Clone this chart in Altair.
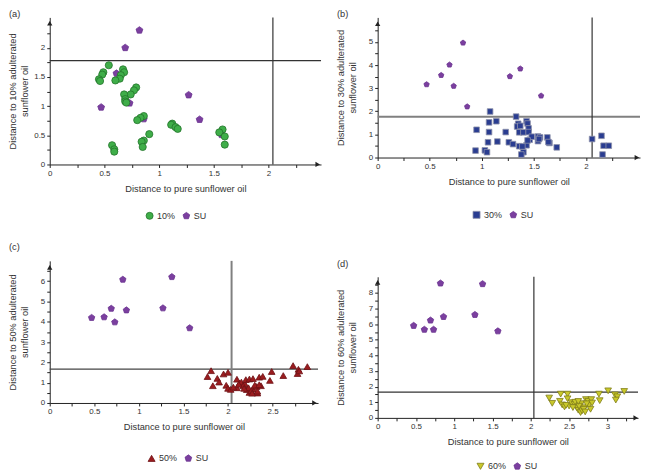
import altair as alt
import pandas as pd

FONT = "Liberation Sans"
TXT = "#333333"
AX = "#222222"
PENT = "M0,-1L0.951,-0.309L0.588,0.809L-0.588,0.809L-0.951,-0.309Z"

# Sunflower oil (SU) samples: same distance to pure oil in every panel
su_x = [0.47, 0.61, 0.69, 0.73, 0.82, 0.86, 1.27, 1.37, 1.57]
su_y_a = [0.98, 1.56, 2.00, 1.05, 2.30, 0.78, 1.19, 0.77, 0.51]
su_y_b = [3.16, 3.56, 4.01, 3.09, 4.96, 2.20, 3.51, 3.84, 2.67]
su_y_c = [4.20, 4.23, 4.65, 3.98, 6.08, 4.57, 4.67, 6.21, 3.69]
su_y_d = [5.90, 5.65, 6.24, 5.65, 8.61, 6.47, 6.60, 8.57, 5.55]

# 10% adulterated
x10 = [0.54, 0.49, 0.48, 0.45, 0.46, 0.67, 0.68, 0.65, 0.64, 0.60, 0.79, 0.77,
       0.74, 0.68, 0.69, 0.69, 0.70, 0.86, 0.83, 0.80, 0.91, 0.86, 0.84, 0.85,
       0.57, 0.59, 0.59, 1.12, 1.11, 1.15, 1.17, 1.58, 1.55, 1.60, 1.60]
y10 = [1.70, 1.58, 1.54, 1.46, 1.43, 1.63, 1.58, 1.53, 1.47, 1.44, 1.32, 1.27,
       1.20, 1.20, 1.12, 1.08, 1.06, 0.83, 0.80, 0.76, 0.52, 0.41, 0.39, 0.30,
       0.33, 0.26, 0.22, 0.70, 0.68, 0.64, 0.61, 0.60, 0.55, 0.48, 0.34]

# 30% adulterated
x30 = [1.08, 1.33, 1.14, 1.07, 1.43, 1.44, 1.35, 1.34, 1.37, 1.45, 0.95, 1.07,
       1.23, 1.36, 1.40, 1.45, 1.54, 1.56, 1.63, 1.46, 1.54, 1.65, 1.15, 1.06,
       1.26, 1.30, 1.36, 1.43, 1.72, 0.94, 1.03, 1.05, 1.40, 1.38, 2.06, 2.15,
       2.17, 2.22, 2.16, 1.48, 1.44, 1.64, 1.55, 1.39]
y30 = [1.99, 1.77, 1.57, 1.52, 1.57, 1.47, 1.46, 1.34, 1.37, 1.26, 1.20, 1.10,
       1.10, 1.09, 1.09, 1.10, 0.91, 0.87, 0.87, 0.77, 0.71, 0.63, 0.69, 0.66,
       0.66, 0.58, 0.49, 0.53, 0.44, 0.30, 0.31, 0.23, 0.23, 0.13, 0.80, 0.94,
       0.51, 0.51, 0.13, 0.90, 0.74, 0.67, 0.80, 0.48]

# 50% adulterated
x50 = [1.81, 1.77, 1.83, 1.88, 1.90, 1.95, 2.00, 1.98, 2.00, 2.03, 2.10, 2.13,
       2.10, 2.15, 2.19, 2.20, 2.24, 2.28, 2.21, 2.24, 2.28, 2.32, 2.35, 2.39,
       2.33, 2.37, 2.49, 2.47, 2.62, 2.73, 2.79, 2.78, 2.80, 2.89, 2.06, 2.17,
       2.23, 2.26, 2.30, 2.33, 2.35, 2.12, 2.18, 2.27]
y50 = [1.59, 1.30, 0.85, 1.21, 1.03, 1.43, 1.51, 0.87, 0.72, 0.67, 1.17, 0.98,
       0.75, 1.03, 0.95, 1.15, 1.18, 1.20, 0.66, 0.52, 0.68, 0.81, 1.27, 1.31,
       0.49, 0.85, 1.55, 1.11, 1.35, 1.84, 1.66, 1.45, 1.58, 1.79, 0.78, 0.85,
       0.75, 0.60, 0.88, 0.58, 0.90, 0.92, 0.72, 0.48]

# 60% adulterated
x60 = [2.24, 2.28, 2.39, 2.48, 2.38, 2.41, 2.44, 2.48, 2.50, 2.53, 2.57, 2.60,
       2.62, 2.65, 2.67, 2.70, 2.72, 2.75, 2.76, 2.78, 2.79, 2.66, 2.55, 2.89,
       2.90, 3.01, 3.10, 3.13, 3.11, 3.22, 2.46, 2.58, 2.63, 2.69, 2.73, 2.62,
       2.71, 2.80]
y60 = [1.27, 0.93, 1.52, 1.52, 1.06, 0.83, 0.70, 1.22, 0.76, 0.97, 0.87, 0.65,
       0.49, 0.34, 0.45, 0.65, 1.17, 1.06, 0.80, 0.55, 1.17, 0.91, 0.66, 1.52,
       1.10, 1.73, 1.47, 1.35, 1.14, 1.69, 0.80, 1.00, 0.75, 0.55, 0.90, 1.05,
       0.38, 0.95]

# threshold lines (x = distance to pure oil limit, y = distance to adulterated limit)
thr_x = [2.04, 2.06, 2.04, 2.04]
thr_y = [1.78, 1.76, 1.67, 1.65]

tags = ["(a)", "(b)", "(c)", "(d)"]
labels = ["10%", "30%", "50%", "60%"]
ytitles = [["Distance to 10% adulterated", "sunflower oil"],
           ["Distance to 30% adulterated", "sunflower oil"],
           ["Distance to 50% adulterated", "sunflower oil"],
           ["Distance to 60% adulterated", "sunflower oil"]]


def ticks(step, top):
    n = int(round(top / step))
    return [i * step for i in range(n + 1)]


def panel(i, sx, sy, suy, shape, fill, stroke, size, xmax, ymax, w, h,
          xtick_top, ytick_step, ylab_step, ytick_top, xarr, yarr,
          hcol, hw, vcol, vw, toff, lx, ly):
    lab = labels[i]
    df = pd.DataFrame({
        "x": su_x + sx,
        "y": suy + sy,
        "g": ["SU"] * len(su_x) + [lab] * len(sx),
    })
    xs = alt.Scale(domain=[0, xmax], nice=False, zero=True)
    ys = alt.Scale(domain=[0, ymax], nice=False, zero=True)
    xaxis = alt.Axis(
        values=ticks(0.25, xtick_top),
        labelExpr="datum.value % 0.5 == 0 ? toString(datum.value) : ''",
        title="Distance to pure sunflower oil", grid=False, tickSize=3,
        domainColor=AX, tickColor=AX, labelColor=TXT, titleColor=TXT,
        labelFont=FONT, titleFont=FONT, labelFontSize=8, titleFontSize=9.3,
        titleFontWeight="normal", labelPadding=2, titlePadding=7,
        labelOverlap=False, labelFlush=False,
    )
    yaxis = alt.Axis(
        values=ticks(ytick_step, ytick_top),
        labelExpr=f"datum.value % {ylab_step} == 0 ? toString(datum.value) : ''",
        title=ytitles[i], grid=False, tickSize=3,
        domainColor=AX, tickColor=AX, labelColor=TXT, titleColor=TXT,
        labelFont=FONT, titleFont=FONT, labelFontSize=8, titleFontSize=9.3,
        titleFontWeight="normal", labelPadding=2, titlePadding=4,
        titleLineHeight=12, minExtent=16, maxExtent=16,
        labelOverlap=False, labelFlush=False,
    )
    X = lambda: alt.X("x:Q", scale=xs, axis=xaxis)
    Y = lambda: alt.Y("y:Q", scale=ys, axis=yaxis)
    pts = alt.Chart(df).mark_point(filled=True, opacity=1, strokeWidth=0.8).encode(
        x=X(), y=Y(),
        color=alt.Color("g:N", scale=alt.Scale(domain=[lab, "SU"], range=[fill, "#7b3f9f"]),
                        legend=alt.Legend(
                            title=None, orient="none", direction="horizontal",
                            legendX=lx, legendY=ly, labelFont=FONT, labelFontSize=9,
                            labelColor=TXT, symbolSize=50, labelOffset=3,
                            columnPadding=5, symbolStrokeWidth=0.8)),
        shape=alt.Shape("g:N", scale=alt.Scale(domain=[lab, "SU"], range=[shape, PENT])),
        stroke=alt.Stroke("g:N", scale=alt.Scale(domain=[lab, "SU"], range=[stroke, "#6a3290"])),
        size=alt.value(size),
    )
    hrule = alt.Chart(pd.DataFrame({"y": [thr_y[i]]})).mark_rule(
        color=hcol, strokeWidth=hw).encode(y=Y())
    vrule = alt.Chart(pd.DataFrame({"x": [thr_x[i]]})).mark_rule(
        color=vcol, strokeWidth=vw).encode(x=X())
    xarrow = alt.Chart(pd.DataFrame({"x": [xarr], "y": [0]})).mark_point(
        shape="triangle-right", filled=True, color=AX, opacity=1, size=28).encode(
        x=X(), y=Y())
    yarrow = alt.Chart(pd.DataFrame({"x": [0], "y": [yarr]})).mark_point(
        shape="triangle-up", filled=True, color=AX, opacity=1, size=28).encode(
        x=X(), y=Y())
    return alt.layer(hrule, vrule, pts, xarrow, yarrow).properties(
        width=w, height=h,
        title=alt.TitleParams(tags[i], anchor="start", frame="bounds", offset=toff,
                              font=FONT, fontSize=9.3, fontWeight="normal", color=TXT),
    )


pa = panel(0, x10, y10, su_y_a, "circle", "#3fae49", "#23742b", 52,
           2.48, 2.52, 273, 148, 2.25, 0.25, 0.5, 2.25, 2.45, 2.42,
           "#333333", 1.2, "#333333", 1.2, -2, 96, 195)
pb = panel(1, x30, y30, su_y_b, "square", "#2a3d91", "#8f93aa", 32,
           2.52, 6.06, 264, 141, 2.25, 0.5, 1, 5.5, 2.49, 5.79,
           "#808080", 2, "#333333", 1.2, -2, 95, 194)
pc = panel(2, x50, y50, su_y_c, "triangle-up", "#9b1c1f", "#6d1215", 45,
           3.01, 7.0, 270, 143, 2.75, 0.5, 1, 6.5, 2.97, 6.68,
           "#444444", 1.3, "#808080", 2, 8, 98, 194)
pd_ = panel(3, x60, y60, su_y_d, "triangle-down", "#c9c82a", "#7f7d1a", 45,
            3.40, 9.03, 262, 142, 3.25, 0.5, 1, 8.5, 3.37, 8.67,
            "#333333", 1.2, "#333333", 1.2, 7, 99, 186)

RES = dict(color="independent", shape="independent", stroke="independent")

left = alt.vconcat(pa, pc, spacing=21).resolve_scale(**RES)
right = alt.vconcat(pb, pd_, spacing=40).resolve_scale(**RES)

chart = alt.hconcat(left, right, spacing=14).resolve_scale(**RES).properties(
    padding={"left": 0, "top": 0, "right": 0, "bottom": 0}
).configure_view(stroke=None)

chart.save("out.html", embed_options={"renderer": "svg", "actions": False})
